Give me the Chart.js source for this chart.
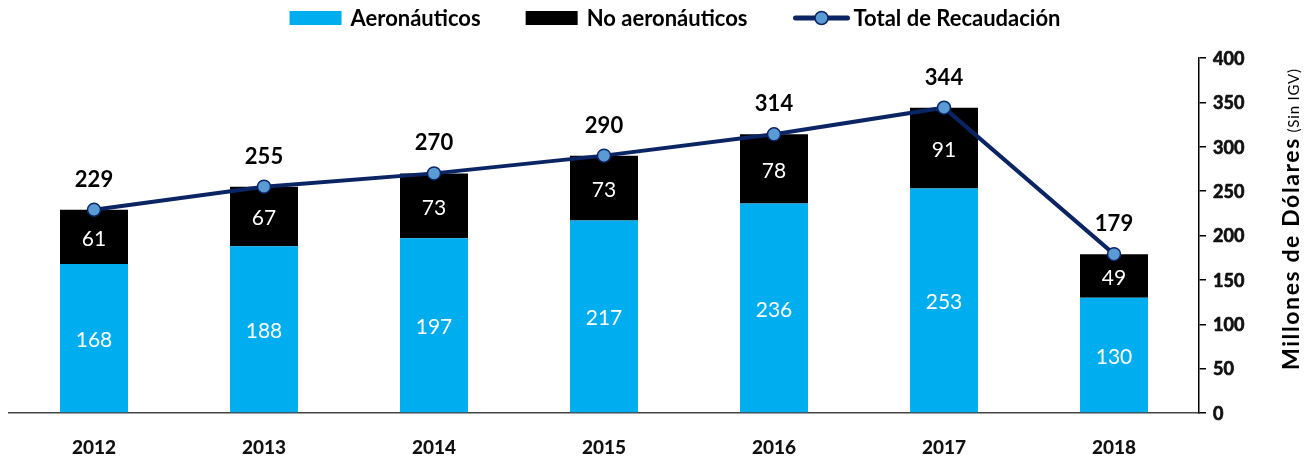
<!DOCTYPE html>
<html>
<head>
<meta charset="utf-8">
<script src="https://cdn.jsdelivr.net/npm/chart.js@4.4.0/dist/chart.umd.min.js"></script>
<style>
  html, body { margin: 0; padding: 0; background: #fff; }
  #wrap { width: 1311px; height: 464px; }
</style>
</head>
<body>
<div id="wrap"><canvas id="recaudacion"></canvas></div>
<script>
// datos (millones de dolares, sin IGV)
let years = ['2012', '2013', '2014', '2015', '2016', '2017', '2018'];
let aeronauticos = [168, 188, 197, 217, 236, 253, 130];
let noAeronauticos = [61, 67, 73, 73, 78, 91, 49];
let totalRecaudacion = [229, 255, 270, 290, 314, 344, 179];
let yTicks = [0, 50, 100, 150, 200, 250, 300, 350, 400];

let fontFam = 'Lato, "Open Sans", sans-serif';
let azul = '#00AEEF';
let negro = '#000000';
let navy = '#0B2463';
let puntoAzul = '#5B9BD5';

// etiquetas de valores
let valueLabels = {
    id: 'valueLabels',
    afterDatasetsDraw(chart) {
        let ctx = chart.ctx;
        ctx.save();
        ctx.textAlign = 'center';
        ctx.textBaseline = 'middle';
        chart.data.datasets.forEach(function(ds, i) {
            let meta = chart.getDatasetMeta(i);
            meta.data.forEach(function(el, j) {
                if (ds.type === 'line') {
                    ctx.fillStyle = '#000';
                    ctx.font = 'bold 22px ' + fontFam;
                    ctx.fillText(ds.data[j], el.x, el.y - 30);
                } else {
                    ctx.fillStyle = '#fff';
                    ctx.font = '21px ' + fontFam;
                    ctx.fillText(ds.data[j], el.x, (el.y + el.base) / 2 + 2);
                }
            });
        });
        ctx.restore();
    }
};

// leyenda, etiquetas y titulo del eje
let extras = {
    id: 'extras',
    afterDraw(chart) {
        let ctx = chart.ctx;
        ctx.save();
        ctx.font = 'bold 22px ' + fontFam;
        ctx.textBaseline = 'middle';
        ctx.textAlign = 'left';
        let items = [
            {kind: 'box', color: azul, text: 'Aeronáuticos'},
            {kind: 'box', color: negro, text: 'No aeronáuticos'},
            {kind: 'line', color: navy, text: 'Total de Recaudación'}
        ];
        let symW = 52, gapT = 9, gapI = 45;
        let total = 0;
        items.forEach(function(it, k) {
            it.w = ctx.measureText(it.text).width;
            total += symW + gapT + it.w + (k < items.length - 1 ? gapI : 0);
        });
        let x = 675 - total / 2;
        let y = 18;
        items.forEach(function(it) {
            if (it.kind === 'box') {
                ctx.fillStyle = it.color;
                ctx.fillRect(x, y - 7, symW, 14);
            } else {
                ctx.strokeStyle = it.color;
                ctx.lineWidth = 5;
                ctx.lineCap = 'round';
                ctx.beginPath();
                ctx.moveTo(x + 3, y);
                ctx.lineTo(x + symW + 3, y);
                ctx.stroke();
                ctx.beginPath();
                ctx.arc(x + symW / 2 + 3, y, 6.5, 0, Math.PI * 2);
                ctx.fillStyle = puntoAzul;
                ctx.fill();
                ctx.lineWidth = 1.5;
                ctx.stroke();
            }
            ctx.fillStyle = '#000';
            ctx.fillText(it.text, x + symW + gapT, y + 1);
            x += symW + gapT + it.w + gapI;
        });

        // etiquetas del eje y (en negrita)
        let ys = chart.scales.y;
        ctx.font = 'bold 18px ' + fontFam;
        ctx.fillStyle = '#111';
        ctx.strokeStyle = '#111';
        ctx.lineWidth = 0.7;
        ctx.lineJoin = 'round';
        yTicks.forEach(function(v) {
            ctx.fillText(v, ys.left + 14, ys.getPixelForValue(v) + 1);
            ctx.strokeText(v, ys.left + 14, ys.getPixelForValue(v) + 1);
        });

        // titulo eje derecho
        let big = 'Millones de Dólares';
        let small = ' (Sin IGV)';
        ctx.letterSpacing = '1.6px';
        ctx.font = 'bold 23px ' + fontFam;
        let wb = ctx.measureText(big).width;
        ctx.translate(1299, 370);
        ctx.rotate(-Math.PI / 2);
        ctx.textBaseline = 'alphabetic';
        ctx.fillStyle = '#000';
        ctx.fillText(big, 0, 0);
        ctx.letterSpacing = '0.8px';
        ctx.font = '15px ' + fontFam;
        ctx.fillText(small, wb, 0);
        ctx.restore();
    }
};

let ctx = document.getElementById('recaudacion').getContext('2d');
let chart = new Chart(ctx, {
    data: {
        labels: years,
        datasets: [
            {
                type: 'line',
                label: 'Total de Recaudación',
                data: totalRecaudacion,
                stack: 'linea',
                order: 0,
                borderColor: navy,
                borderWidth: 4,
                tension: 0,
                pointRadius: 6.5,
                pointBackgroundColor: puntoAzul,
                pointBorderColor: navy,
                pointBorderWidth: 1.5
            },
            {
                type: 'bar',
                label: 'Aeronáuticos',
                data: aeronauticos,
                stack: 'barras',
                order: 1,
                backgroundColor: azul,
                categoryPercentage: 1,
                barPercentage: 0.4
            },
            {
                type: 'bar',
                label: 'No aeronáuticos',
                data: noAeronauticos,
                stack: 'barras',
                order: 1,
                backgroundColor: negro,
                categoryPercentage: 1,
                barPercentage: 0.4
            }
        ]
    },
    options: {
        responsive: true,
        maintainAspectRatio: false,
        devicePixelRatio: 1,
        animation: false,
        layout: { padding: { top: 58, left: 9, right: 0, bottom: 0 } },
        plugins: {
            legend: { display: false },
            tooltip: { enabled: false }
        },
        scales: {
            x: {
                stacked: true,
                grid: { display: false, drawTicks: false },
                border: { display: true, color: '#444', width: 1.5 },
                ticks: {
                    padding: 23,
                    color: '#111',
                    font: { family: fontFam, size: 19, weight: 900 }
                },
                afterFit: function(scale) { scale.height = 51; }
            },
            y: {
                position: 'right',
                stacked: true,
                min: yTicks[0],
                max: yTicks[yTicks.length - 1],
                grid: { display: true, drawOnChartArea: false, drawTicks: true, tickLength: 7, color: '#000', lineWidth: 1.5 },
                border: { display: true, color: '#000', width: 1.5 },
                ticks: {
                    stepSize: yTicks[1] - yTicks[0],
                    padding: 8,
                    color: 'rgba(0,0,0,0)',
                    font: { family: fontFam, size: 17, weight: 900 }
                },
                afterFit: function(scale) { scale.width = 112; }
            }
        }
    },
    plugins: [valueLabels, extras]
});
</script>
</body>
</html>
